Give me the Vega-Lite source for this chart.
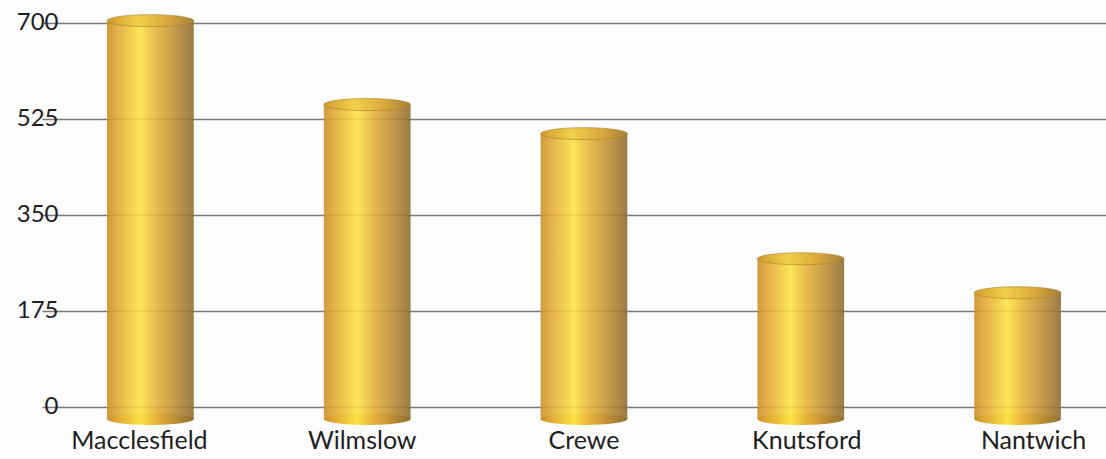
{
  "$schema": "https://vega.github.io/schema/vega-lite/v6.json",
  "width": 1008,
  "height": 412,
  "autosize": {"type": "none"},
  "padding": {"left": 80, "top": 13, "right": 18, "bottom": 34},
  "background": "#fdfdfd",
  "config": {
    "view": {"stroke": null},
    "font": "Lato",
    "axis": {"labelFont": "Lato", "labelColor": "#1e1e1e", "labelFontSize": 24}
  },
  "data": {
    "values": [
      {"town": "Macclesfield", "count": 715},
      {"town": "Wilmslow", "count": 562},
      {"town": "Crewe", "count": 509},
      {"town": "Knutsford", "count": 281},
      {"town": "Nantwich", "count": 219}
    ]
  },
  "encoding": {
    "x": {
      "field": "town",
      "type": "nominal",
      "sort": null,
      "scale": {"range": [-38, 1046], "paddingInner": 0.6, "paddingOuter": 0.3},
      "axis": {
        "title": null, "domain": false, "ticks": false, "labelAngle": 0, "labelPadding": 3, "labelBaseline": "top",
        "labelFontSize": 25,
        "labelOffset": {
          "condition": [
            {"test": "datum.value === 'Macclesfield'", "value": -11},
            {"test": "datum.value === 'Wilmslow'", "value": -5},
            {"test": "datum.value === 'Knutsford'", "value": 6},
            {"test": "datum.value === 'Nantwich'", "value": 16}
          ],
          "value": 0
        }
      }
    }
  },
  "layer": [
    {
      "mark": {
        "type": "bar",
        "yOffset": 6,
        "opacity": 0.9,
        "color": {
          "gradient": "linear", "x1": 0, "x2": 1, "y1": 0, "y2": 0,
          "stops": [
            {"offset": 0, "color": "#c99129"},
            {"offset": 0.12, "color": "#e0a936"},
            {"offset": 0.38, "color": "#fbe244"},
            {"offset": 0.58, "color": "#e4b03a"},
            {"offset": 0.82, "color": "#b68a36"},
            {"offset": 1, "color": "#8e6d32"}
          ]
        }
      },
      "encoding": {
        "y": {
          "field": "count",
          "type": "quantitative",
          "scale": {"domain": [-33, 718], "nice": false, "zero": false},
          "axis": {
            "title": null, "values": [0, 175, 350, 525, 700], "domain": false, "ticks": false,
            "labelPadding": 22, "grid": true, "gridColor": "#7a7a7a", "gridWidth": 1.6
          }
        },
        "y2": {"datum": -22}
      }
    },
    {
      "mark": {
        "type": "point",
        "filled": true,
        "opacity": 1,
        "size": 7520,
        "shape": "M-1,0 A1,0.138 0 1,0 1,0 A1,0.138 0 1,0 -1,0 Z",
        "fill": {
          "gradient": "linear", "x1": 0, "x2": 1, "y1": 0, "y2": 0,
          "stops": [
            {"offset": 0, "color": "#c99129"},
            {"offset": 0.12, "color": "#e0a936"},
            {"offset": 0.38, "color": "#fbe244"},
            {"offset": 0.58, "color": "#e4b03a"},
            {"offset": 0.82, "color": "#b68a36"},
            {"offset": 1, "color": "#8e6d32"}
          ]
        }
      },
      "encoding": {"y": {"datum": -22, "type": "quantitative"}}
    },
    {
      "mark": {
        "type": "point",
        "filled": true,
        "opacity": 1,
        "size": 7520,
        "yOffset": 6,
        "shape": "M-1,0 A1,0.138 0 1,0 1,0 A1,0.138 0 1,0 -1,0 Z",
        "stroke": "#a9802e",
        "strokeOpacity": 0.6,
        "strokeWidth": 1,
        "fill": {
          "gradient": "linear", "x1": 0, "x2": 1, "y1": 0, "y2": 0,
          "stops": [
            {"offset": 0, "color": "#cf9a30"},
            {"offset": 0.35, "color": "#f2d04a"},
            {"offset": 0.7, "color": "#d9a93c"},
            {"offset": 1, "color": "#a4803a"}
          ]
        }
      },
      "encoding": {"y": {"field": "count", "type": "quantitative"}}
    }
  ]
}
